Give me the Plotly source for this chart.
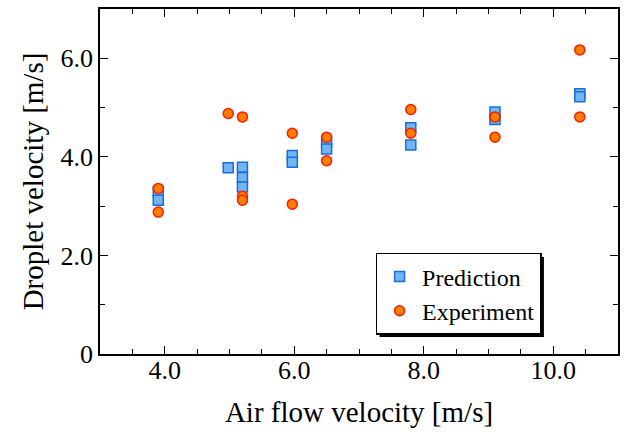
import plotly.graph_objects as go

# Data
pred_x = [3.9, 3.9, 4.98, 5.2, 5.2, 5.2, 5.97, 5.97, 6.5, 6.5, 7.8, 7.8, 9.1, 9.1, 10.41, 10.41]
pred_y = [3.29, 3.12, 3.78, 3.79, 3.58, 3.39, 4.03, 3.89, 4.31, 4.16, 4.59, 4.24, 4.91, 4.76, 5.28, 5.22]
exp_x = [3.9, 3.9, 4.98, 5.2, 5.2, 5.2, 5.97, 5.97, 6.5, 6.5, 7.8, 7.8, 9.1, 9.1, 10.41, 10.41]
exp_y = [3.36, 2.88, 4.88, 4.81, 3.20, 3.12, 4.48, 3.04, 4.40, 3.92, 4.96, 4.48, 4.81, 4.40, 6.17, 4.81]

x_tickvals = [4, 6, 8, 10]
x_ticktext = ["4.0", "6.0", "8.0", "10.0"]
y_tickvals = [0, 2, 4, 6]
y_ticktext = ["0", "2.0", "4.0", "6.0"]

FONT = "Liberation Serif"

fig = go.Figure()
fig.add_trace(go.Scatter(
    x=pred_x, y=pred_y, mode="markers", name="Prediction",
    marker=dict(symbol="square", size=10, color="#70b6f4",
                line=dict(color="#1a6ed4", width=1.5)),
))
fig.add_trace(go.Scatter(
    x=exp_x, y=exp_y, mode="markers", name="Experiment",
    marker=dict(symbol="circle", size=10, color="#ff8000",
                line=dict(color="#ff1a00", width=1.5)),
))

axis_common = dict(
    showline=True, linecolor="black", linewidth=1.5, mirror="allticks",
    ticks="inside", ticklen=8, tickwidth=1.2, tickcolor="black",
    showgrid=False, zeroline=False,
    tickfont=dict(family=FONT, size=26, color="black"),
)

fig.update_xaxes(
    range=[3, 11], tickvals=x_tickvals, ticktext=x_ticktext,
    minor=dict(dtick=0.5, ticks="inside", ticklen=5, tickwidth=1.2, tickcolor="black", showgrid=False),
    title=dict(text="Air flow velocity [m/s]", font=dict(family=FONT, size=29, color="black"), standoff=18),
    ticklabelstandoff=-8,
    **axis_common,
)
fig.update_yaxes(
    range=[0, 7], tickvals=y_tickvals, ticktext=y_ticktext,
    minor=dict(dtick=1, ticks="inside", ticklen=5, tickwidth=1.2, tickcolor="black", showgrid=False),
    title=dict(text="Droplet velocity [m/s]", font=dict(family=FONT, size=29, color="black"), standoff=8),
    **axis_common,
)

# legend shadow (offset down-right behind the legend box)
fig.add_shape(type="rect", xref="paper", yref="paper",
              x0=0.5396, x1=0.857, y0=0.0493, y1=0.281,
              fillcolor="black", line=dict(width=0), layer="above")

fig.update_layout(
    width=624, height=436,
    margin=dict(l=100, r=4, t=9, b=82),
    plot_bgcolor="white", paper_bgcolor="white",
    font=dict(family=FONT, color="black"),
    showlegend=True,
    legend=dict(x=0.532, y=0.293, xanchor="left", yanchor="top",
                bgcolor="white", bordercolor="black", borderwidth=1.5,
                font=dict(family=FONT, size=24, color="black"),
                itemwidth=35, tracegroupgap=0),
)

fig.write_html("out.html")
